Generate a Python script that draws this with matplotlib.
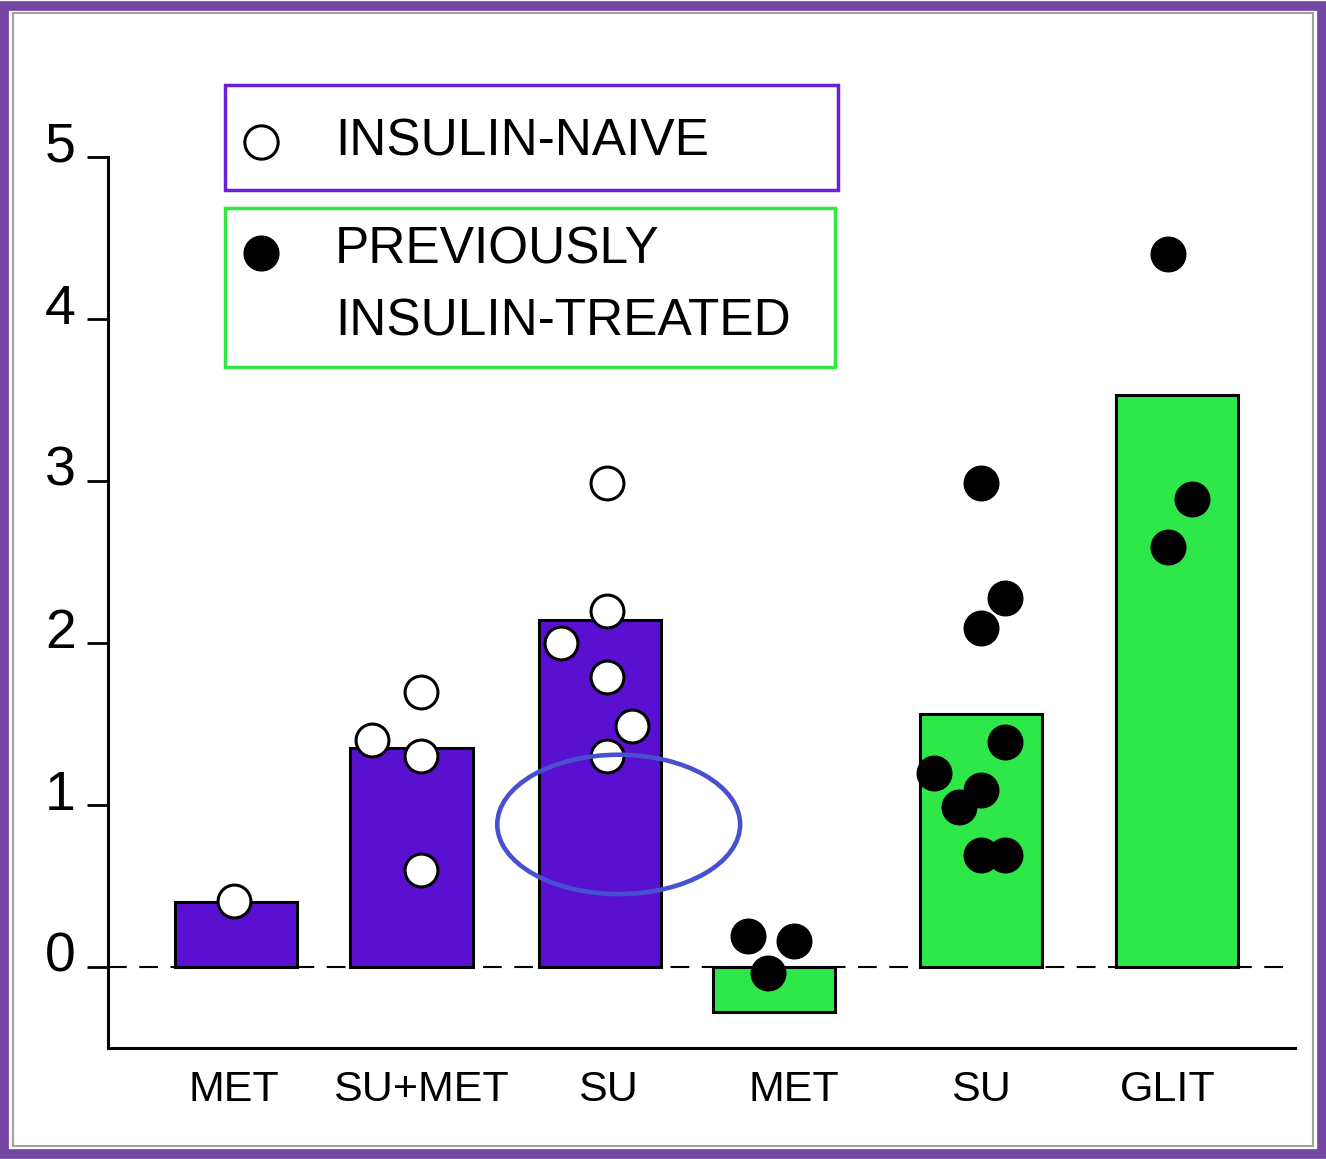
import matplotlib.pyplot as plt
import matplotlib.transforms as mtransforms
from matplotlib.patches import Rectangle, Ellipse
from matplotlib.lines import Line2D

# data
categories = ['MET', 'SU+MET', 'SU', 'MET', 'SU', 'GLIT']
bar_means = [0.40, 1.35, 2.14, -0.28, 1.56, 3.53]
bar_shift = [0.01, -0.05, -0.04, -0.11, 0.0, 0.05]   # bars sit slightly off the label centre
bar_group = ['naive', 'naive', 'naive', 'treated', 'treated', 'treated']

# individual points: (category index, x jitter, value)
naive_cat = [0, 1, 1, 1, 1, 2, 2, 2, 2, 2, 2]
naive_dx = [0, -0.26, 0, 0, 0, 0, 0, -0.25, 0, 0.13, 0]
naive_val = [0.41, 1.40, 1.70, 1.30, 0.60, 2.99, 2.20, 2.00, 1.79, 1.49, 1.30]

treated_cat = [3, 3, 3, 4, 4, 4, 4, 4, 4, 4, 4, 4, 5, 5, 5]
treated_dx = [-0.25, 0, -0.14, 0, 0.13, 0, 0.13, -0.25, 0, -0.12, 0, 0.13, 0, 0.13, 0]
treated_val = [0.19, 0.16, -0.04, 2.99, 2.28, 2.09, 1.39, 1.20, 1.09, 0.99, 0.69, 0.69,
               4.40, 2.89, 2.59]

purple = '#5a10d0'
green = '#2ee84a'

plt.rcParams['font.family'] = ['Liberation Sans', 'DejaVu Sans']

fig = plt.figure(figsize=(13.26, 11.59), dpi=100)
ax = fig.add_axes([0.0814, 0.0958, 0.8952, 0.7688])

x = list(range(len(categories)))
colors = [purple if g == 'naive' else green for g in bar_group]
ax.bar([i + s for i, s in zip(x, bar_shift)], bar_means, width=0.655, color=colors,
       edgecolor='black', linewidth=2.2, zorder=2)

ax.axhline(0, color='black', linestyle=(0, (9, 6)), linewidth=1.5, zorder=1)

ax.scatter([c + d for c, d in zip(naive_cat, naive_dx)], naive_val, s=560,
           facecolor='white', edgecolor='black', linewidth=2.2, zorder=3)
ax.scatter([c + d for c, d in zip(treated_cat, treated_dx)], treated_val, s=620,
           facecolor='black', edgecolor='black', linewidth=1, zorder=3)

ax.add_patch(Ellipse((2.06, 0.88), 1.30, 0.86, fill=False, edgecolor='#4650d0',
                     linewidth=3.3, zorder=4))

ax.set_xlim(-0.674, 5.68)
ax.set_ylim(-0.5, 5.0)
ax.set_yticks([0, 1, 2, 3, 4, 5])
ax.set_xticks(x)
ax.set_xticklabels(categories, fontsize=31)
ax.tick_params(axis='x', length=0, pad=16)
ax.tick_params(axis='y', length=15, width=2, direction='out', labelsize=40, pad=8)
# numbers in the original sit a bit above their tick marks
lift = mtransforms.ScaledTranslation(0, 15 / 100, fig.dpi_scale_trans)
for lab in ax.get_yticklabels():
    lab.set_transform(lab.get_transform() + lift)
for s in ['top', 'right']:
    ax.spines[s].set_visible(False)
ax.spines['left'].set_linewidth(2.2)
ax.spines['bottom'].set_linewidth(2.2)

# legend drawn as two framed boxes (figure pixel coords -> fractions)
W, H = 1326, 1159
def fx(px):
    return px / W
def fy(py):
    return 1 - py / H

fig.patches.append(Rectangle((fx(225), fy(190)), fx(838) - fx(225), fy(85) - fy(190),
                             transform=fig.transFigure, fill=False,
                             edgecolor='#6a1fd8', linewidth=2.5))
fig.patches.append(Rectangle((fx(225), fy(367)), fx(835) - fx(225), fy(208) - fy(367),
                             transform=fig.transFigure, fill=False,
                             edgecolor='#2ee83c', linewidth=2.5))
fig.lines.append(Line2D([fx(261)], [fy(142)], transform=fig.transFigure, marker='o',
                        markersize=24, markerfacecolor='white', markeredgecolor='black',
                        markeredgewidth=2.2))
fig.lines.append(Line2D([fx(261)], [fy(253)], transform=fig.transFigure, marker='o',
                        markersize=25, markerfacecolor='black', markeredgecolor='black'))
fig.text(fx(335), fy(142), 'INSULIN-NAIVE', fontsize=37, va='center', ha='left')
fig.text(fx(335), fy(250), 'PREVIOUSLY', fontsize=37, va='center', ha='left')
fig.text(fx(335), fy(322), 'INSULIN-TREATED', fontsize=37, va='center', ha='left')

# outer frame
fig.patches.append(Rectangle((0.003, 0.004), 0.994, 0.991, transform=fig.transFigure,
                             fill=False, edgecolor='#7447a6', linewidth=7))
fig.patches.append(Rectangle((0.0095, 0.0115), 0.981, 0.977, transform=fig.transFigure,
                             fill=False, edgecolor='#a0a0a0', linewidth=1.5))

fig.savefig('out.png', dpi=100)
